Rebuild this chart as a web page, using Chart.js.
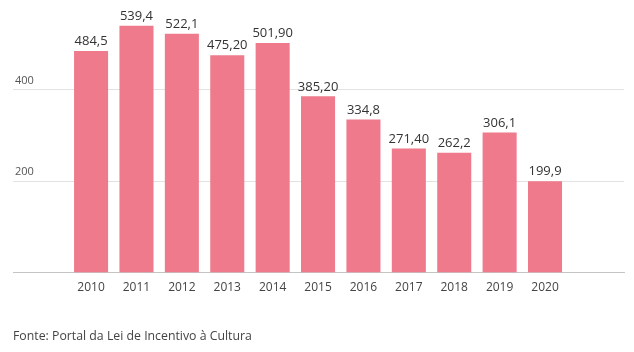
<!DOCTYPE html>
<html>
<head>
<meta charset="utf-8">
<script src="https://cdn.jsdelivr.net/npm/chart.js@4/dist/chart.umd.min.js"></script>
<style>
  html, body { margin: 0; padding: 0; background: #fff; }
  #wrap { position: relative; width: 634px; height: 352px; }
  canvas { position: absolute; left: 0; top: 0; }
  #src { position: absolute; left: 13px; top: 327px; font-family: "Open Sans", sans-serif; font-size: 12.3px; color: #444; white-space: nowrap; }
</style>
</head>
<body>
<div id="wrap">
  <canvas id="c" width="634" height="352"></canvas>
  <div id="src">Fonte: Portal da Lei de Incentivo à Cultura</div>
</div>
<script>
const years = [2010, 2011, 2012, 2013, 2014, 2015, 2016, 2017, 2018, 2019, 2020];
const values = [484.5, 539.4, 522.1, 475.2, 501.9, 385.2, 334.8, 271.4, 262.2, 306.1, 199.9];
const valueLabels = ["484,5", "539,4", "522,1", "475,20", "501,90", "385,20", "334,8", "271,40", "262,2", "306,1", "199,9"];
const yTicks = [200, 400];

const FONT = '"Open Sans", sans-serif';

const labelPlugin = {
  id: 'valueLabels',
  afterDatasetsDraw(chart) {
    const ctx = chart.ctx;
    const meta = chart.getDatasetMeta(0);
    ctx.save();
    ctx.font = '13px ' + FONT;
    ctx.fillStyle = '#333';
    ctx.textAlign = 'center';
    ctx.textBaseline = 'bottom';
    meta.data.forEach((bar, i) => {
      ctx.fillText(valueLabels[i], bar.x, bar.y - 3);
    });
    ctx.restore();
  }
};

new Chart(document.getElementById('c'), {
  type: 'bar',
  data: {
    datasets: [{
      data: years.map((y, i) => ({ x: y, y: values[i] })),
      backgroundColor: '#ee7a8b',
      borderWidth: 0,
      barPercentage: 1,
      categoryPercentage: 0.75
    }]
  },
  plugins: [labelPlugin],
  options: {
    responsive: false,
    animation: false,
    layout: { padding: { left: 13, right: 10, top: 0, bottom: 49 } },
    plugins: { legend: { display: false }, tooltip: { enabled: false } },
    scales: {
      x: {
        type: 'linear',
        offset: false,
        min: 2008.28,
        max: 2021.74,
        afterBuildTicks(scale) { scale.ticks = years.map(v => ({ value: v })); },
        ticks: {
          autoSkip: false,
          maxRotation: 0,
          padding: 8,
          color: '#444',
          font: { family: FONT, size: 12 },
          callback: v => String(v)
        },
        grid: { display: false, drawTicks: false, offset: false },
        border: { display: true, color: '#c4c4c4', width: 1 }
      },
      y: {
        min: 0,
        max: 577,
        afterBuildTicks(scale) { scale.ticks = yTicks.map(v => ({ value: v })); },
        afterFit(scale) { scale.width = 0; },
        ticks: {
          mirror: true,
          padding: 2,
          labelOffset: -9,
          color: '#555',
          font: { family: FONT, size: 11 }
        },
        grid: { color: '#e2e2e2', drawTicks: false },
        border: { display: false }
      }
    }
  }
});
</script>
</body>
</html>
